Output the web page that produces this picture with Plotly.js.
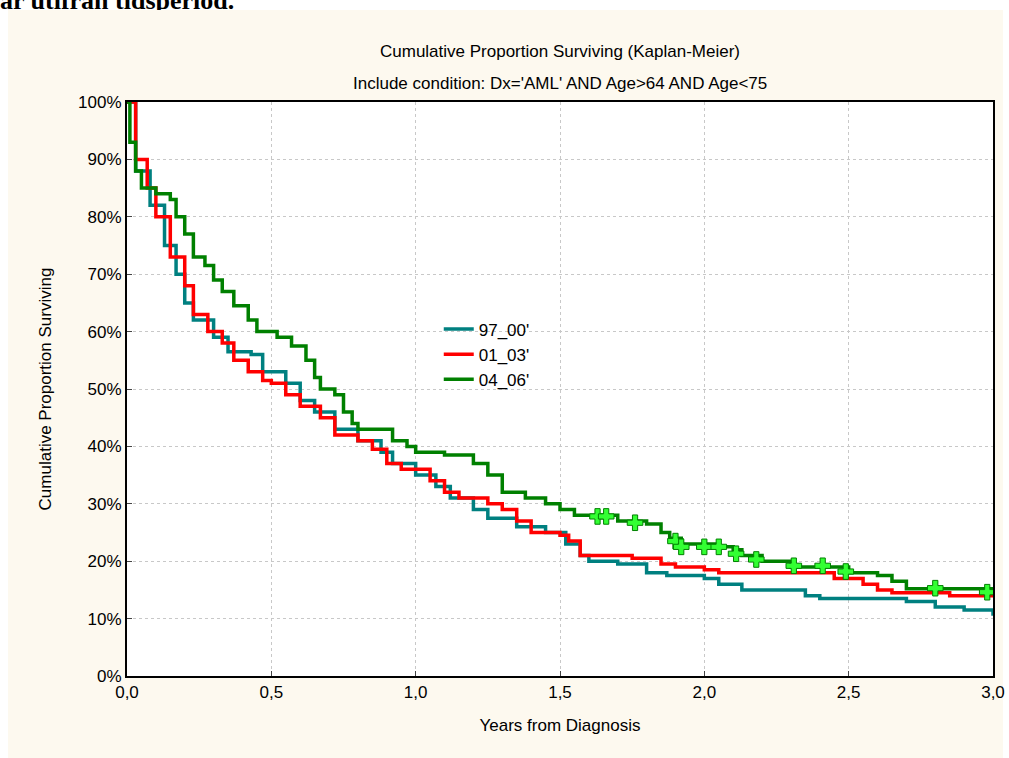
<!DOCTYPE html>
<html><head><meta charset="utf-8">
<script src="https://cdn.plot.ly/plotly-3.0.1.min.js"></script>
<style>
body{margin:0;background:#fff;width:1009px;height:758px;overflow:hidden;position:relative}
#head{position:absolute;left:0;top:-14px;font:bold 26px "Liberation Serif",serif;color:#000}
#bg{position:absolute;left:8px;top:10px;width:995px;height:748px;background:#fdf9ef}
#chart{position:absolute;left:8px;top:10px;width:1001px;height:748px}
</style></head><body>
<div id="head">ar utifrån tidsperiod.</div>
<div id="bg"></div>
<div id="chart"></div>
<script>
var t1 = [0, 0.03, 0.08, 0.13, 0.17, 0.2, 0.23, 0.3, 0.35, 0.43, 0.47, 0.55, 0.6, 0.65, 0.72, 0.8, 0.88, 0.92, 1.0, 1.07, 1.12, 1.2, 1.25, 1.35, 1.45, 1.52, 1.57, 1.6, 1.7, 1.8, 1.87, 2.0, 2.05, 2.13, 2.35, 2.4, 2.7, 2.8, 2.9, 3.0];
var s1 = [100, 88, 82, 75, 70, 65, 62, 59, 56.5, 56, 53, 51, 48, 46, 43, 41, 39, 37, 35, 33, 31, 29, 27.5, 26, 25, 23, 21, 20, 19.5, 18, 17.5, 17, 16, 15, 14, 13.5, 13, 12, 11.5, 10.5];
var t2 = [0, 0.03, 0.07, 0.1, 0.15, 0.2, 0.23, 0.28, 0.33, 0.37, 0.42, 0.47, 0.5, 0.55, 0.6, 0.67, 0.72, 0.8, 0.85, 0.9, 0.95, 1.05, 1.1, 1.15, 1.25, 1.3, 1.35, 1.4, 1.5, 1.53, 1.57, 1.75, 1.85, 1.9, 2.0, 2.05, 2.45, 2.55, 2.6, 2.65, 2.85, 3.0];
var s2 = [100, 90, 85, 80, 73, 68, 63, 60, 58, 55, 53, 51.5, 51, 49, 47, 45, 42, 41, 39.5, 37, 36, 34, 32, 31, 30, 29, 27, 25, 24.5, 23.5, 21, 20.5, 19.5, 19, 18.5, 18, 17, 16, 15, 14.5, 14, 14];
var t3 = [0, 0.01, 0.03, 0.05, 0.1, 0.15, 0.17, 0.2, 0.23, 0.27, 0.3, 0.33, 0.37, 0.42, 0.45, 0.52, 0.57, 0.62, 0.65, 0.67, 0.72, 0.75, 0.78, 0.8, 0.92, 0.97, 1.0, 1.1, 1.2, 1.25, 1.3, 1.38, 1.45, 1.5, 1.55, 1.7, 1.8, 1.85, 1.88, 1.92, 2.05, 2.1, 2.13, 2.2, 2.3, 2.5, 2.6, 2.65, 2.7, 3.0];
var s3 = [100, 93, 88, 85, 84, 83, 80, 77, 73, 71.5, 69, 67, 64.5, 62, 60, 59, 57.5, 55, 52, 50, 49, 46, 44, 43, 41, 40, 39, 38.5, 37, 35, 32, 31, 30, 29, 28, 27, 26.5, 25, 24, 23, 22.5, 22, 21, 20, 19, 18, 17.5, 16.5, 15.2, 15.2];
var censT = [1.63, 1.66, 1.76, 1.9, 1.92, 2.0, 2.05, 2.11, 2.18, 2.31, 2.41, 2.49, 2.8, 2.98];
var censS = [27.8, 27.8, 26.7, 23.5, 22.5, 22.5, 22.5, 21.3, 20.3, 19.2, 19.2, 18.2, 15.3, 14.6];
var xTicks = [0, 0.5, 1, 1.5, 2, 2.5, 3];
var names = ["97_00'", "01_03'", "04_06'"];
var colors = ['#008080', '#ff0000', '#008000'];

function curve(t, s, i) {
  return {x: t, y: s, type: 'scatter', mode: 'lines', name: names[i],
    line: {shape: 'hv', color: colors[i], width: 3.5}};
}
var traces = [curve(t1, s1, 0), curve(t2, s2, 1), curve(t3, s3, 2), {
  x: censT, y: censS, type: 'scatter', mode: 'markers', showlegend: false,
  marker: {symbol: 'cross', size: 13, color: '#33ff33', line: {color: '#008000', width: 1}}
}];
var font = {family: '"Liberation Sans", Arial, sans-serif', size: 17, color: '#000'};
Plotly.newPlot('chart', traces, {
  width: 1001, height: 748,
  paper_bgcolor: 'rgba(0,0,0,0)', plot_bgcolor: '#fff', font: font,
  margin: {l: 119, r: 16, t: 92, b: 82},
  showlegend: true,
  legend: {x: 0.36, y: 0.56, bgcolor: 'rgba(0,0,0,0)', font: font},
  annotations: [
    {text: 'Cumulative Proportion Surviving (Kaplan-Meier)', xref: 'paper', yref: 'paper', x: 0.5, y: 1, yshift: 62, showarrow: false, font: font},
    {text: "Include condition: Dx='AML' AND Age>64 AND Age<75", xref: 'paper', yref: 'paper', x: 0.5, y: 1, yshift: 30, showarrow: false, font: font}
  ],
  xaxis: {range: [0, 3], tickvals: xTicks, tickformat: '.1f',
    showgrid: true, gridcolor: '#c8c8c8', griddash: 'dot', zeroline: false,
    showline: true, linecolor: '#000', linewidth: 2, mirror: true, ticks: 'inside', ticklen: 5,
    title: {text: 'Years from Diagnosis', standoff: 18, font: font}},
  yaxis: {range: [0, 100], dtick: 10, ticksuffix: '%',
    showgrid: true, gridcolor: '#c8c8c8', griddash: 'dot', zeroline: false,
    showline: true, linecolor: '#000', linewidth: 2, mirror: true, ticks: 'inside', ticklen: 5,
    title: {text: 'Cumulative Proportion Surviving', standoff: 22, font: font}},
  separators: ',.'
}, {displayModeBar: false});
</script></body></html>
